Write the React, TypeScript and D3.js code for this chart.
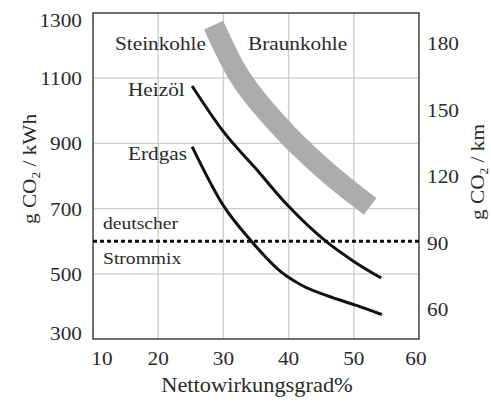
import React from 'react';
import * as d3 from 'd3';

// Achsen
const xTicks = [10, 20, 30, 40, 50, 60];
const leftTicks = [300, 500, 700, 900, 1100, 1300];
const rightTicks = [60, 90, 120, 150, 180];

// Kurven (Wirkungsgrad % -> g CO2 / kWh)
const heizoelEta = [25.2, 30, 35, 40, 45.7, 50, 54.2];
const heizoelCO2 = [1076, 936, 822, 707, 600, 538, 487];

const erdgasEta = [25.2, 30, 34.3, 38.9, 42, 46, 50.4, 54.3];
const erdgasCO2 = [890, 709, 600, 505, 465, 432, 403, 375];

const kohleEta = [28.5, 32.1, 36.3, 41, 46.5, 50, 52.5];
const kohleCO2 = [1263, 1105, 1003, 900, 800, 745, 707];

const strommix = 600;

const W = 491;
const H = 404;
const m = { left: 93, right: 72, top: 13, bottom: 65 };
const txt = { fontFamily: "'Liberation Serif'" };

const zip = (xs: number[], ys: number[]) => xs.map((x, i) => [x, ys[i]] as [number, number]);

export default function App() {
  const x = d3.scaleLinear().domain([10, 60]).range([m.left, W - m.right]);
  const y = d3.scaleLinear().domain([300, 1300]).range([H - m.bottom, m.top]);
  const y2 = d3.scaleLinear().domain([47.1, 194]).range([H - m.bottom, m.top]);

  const line = d3.line<[number, number]>()
    .x(d => x(d[0]))
    .y(d => y(d[1]))
    .curve(d3.curveMonotoneX);

  const band = d3.line<[number, number]>()
    .x(d => x(d[0]))
    .y(d => y(d[1]))
    .curve(d3.curveBasis);

  const sx = 'scale(1.12,1)';

  return (
    <svg width={W} height={H} style={{ position: 'absolute', left: 0, top: 0, background: '#fff' }}>
      {/* Gitter */}
      <g stroke="#cccccc" strokeWidth={1.3}>
        {xTicks.slice(1, -1).map(t => (
          <line key={t} x1={x(t)} x2={x(t)} y1={y(1300)} y2={y(300)} />
        ))}
        {leftTicks.slice(1, -1).map(t => (
          <line key={t} x1={x(10)} x2={x(60)} y1={y(t)} y2={y(t)} />
        ))}
      </g>

      {/* Braunkohle / Steinkohle Band */}
      <path d={band(zip(kohleEta, kohleCO2)) || ''} fill="none" stroke="#acacac" strokeWidth={21} strokeLinecap="butt" />

      <path d={line(zip(heizoelEta, heizoelCO2)) || ''} fill="none" stroke="#111" strokeWidth={3} />
      <path d={line(zip(erdgasEta, erdgasCO2)) || ''} fill="none" stroke="#111" strokeWidth={3} />

      <line x1={x(10)} x2={x(60)} y1={y(strommix)} y2={y(strommix)} stroke="#111" strokeWidth={3} strokeDasharray="4,3" />

      {/* Rahmen */}
      <rect x={x(10)} y={y(1300)} width={x(60) - x(10)} height={y(300) - y(1300)} fill="none" stroke="#111" strokeWidth={1.2} />

      {/* Beschriftungen im Diagramm */}
      <g fontSize={19} fill="#2a2a2a" style={txt}>
        <text transform={`translate(115,50) ${sx}`}>Steinkohle</text>
        <text transform={`translate(248,50) ${sx}`}>Braunkohle</text>
        <text transform={`translate(128,96) ${sx}`}>Heizöl</text>
        <text transform={`translate(128,160) ${sx}`}>Erdgas</text>
      </g>
      <g fontSize={17.5} fill="#2a2a2a" style={txt}>
        <text transform={`translate(103,229) ${sx}`}>deutscher</text>
        <text transform={`translate(103,264) ${sx}`}>Strommix</text>
      </g>

      {/* Achsenbeschriftung */}
      <g fontSize={19} fill="#2a2a2a" style={txt}>
        {leftTicks.map(t => (
          <text key={t} textAnchor="end" transform={`translate(82,${Math.min(Math.max(y(t) + 7, 27), 340)}) ${sx}`}>{t}</text>
        ))}
        {rightTicks.map(t => (
          <text key={t} transform={`translate(427,${y2(t) + 6}) ${sx}`}>{t}</text>
        ))}
        {xTicks.map(t => (
          <text key={t} textAnchor="middle"
            transform={`translate(${t === 10 ? x(t) + 9 : t === 60 ? x(t) - 3 : x(t)},365) ${sx}`}>{t}</text>
        ))}
        <text textAnchor="middle" transform={`translate(257,392) ${sx}`} fontSize={20}>Nettowirkungsgrad%</text>
        <text textAnchor="middle" transform={`translate(36,169) rotate(-90) ${sx}`}>
          g CO<tspan fontSize={12} dy={4}>2</tspan><tspan dy={-4}> / kWh</tspan>
        </text>
        <text textAnchor="middle" transform={`translate(484,172) rotate(-90) ${sx}`}>
          g CO<tspan fontSize={12} dy={4}>2</tspan><tspan dy={-4}> / km</tspan>
        </text>
      </g>
    </svg>
  );
}
